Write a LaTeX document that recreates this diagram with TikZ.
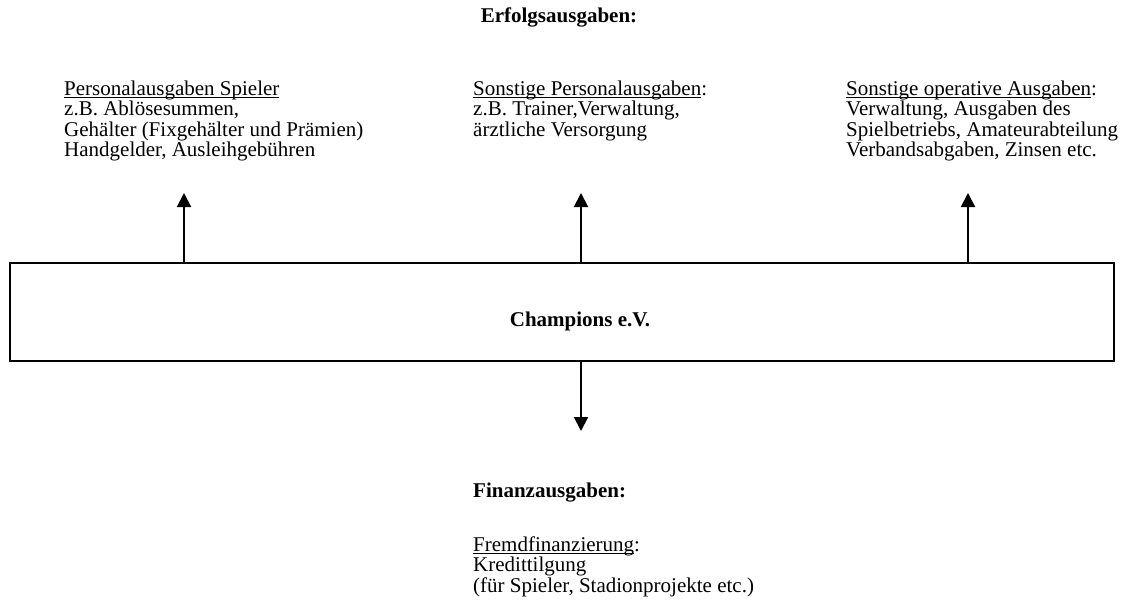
\documentclass[tikz,border=0pt]{standalone}
\usepackage{fontspec}
\setmainfont{Liberation Serif}
\usetikzlibrary{arrows.meta}
% underline drawn close to the baseline, crossing the descenders
\newcommand{\undl}[1]{\setbox0\hbox{#1}\rlap{\vrule height -1.6pt depth 2.6pt width \wd0}\box0}
\begin{document}
\begin{tikzpicture}[x=1pt,y=-1pt,
  txt/.style={font=\fontsize{21}{20.5}\selectfont, inner sep=0pt, align=left, anchor=base west},
  head/.style={font=\fontsize{21}{20.5}\selectfont\bfseries, inner sep=0pt},
  flow/.style={line width=2pt, -{Triangle[width=14pt,length=14pt]}},
  club/.style={draw, line width=1.5pt, minimum width=1104pt, minimum height=98pt, inner sep=0pt}]
  \useasboundingbox (0,0) rectangle (1124,613);

  % title of the upper group
  \node[head, anchor=base] (erfolg) at (559,23) {Erfolgsausgaben:};

  % the club in the middle
  \node[club] (club) at (562,312) {};
  \node[head] (name) at (580,321) {Champions e.V.};

  % the three kinds of operating expenses (anchored at the last baseline)
  \node[txt] (spieler) at (64,156.5) {\undl{Personalausgaben Spieler}\\
    z.B. Ablösesummen,\\
    Gehälter (Fixgehälter und Prämien)\\
    Handgelder, Ausleihgebühren};
  \node[txt] (personal) at (473,136) {\undl{Sonstige Personalausgaben}:\\
    z.B. Trainer,Verwaltung,\\
    ärztliche Versorgung};
  \node[txt] (operativ) at (846,156.5) {\undl{Sonstige operative Ausgaben}:\\
    Verwaltung, Ausgaben des\\
    Spielbetriebs, Amateurabteilung\\
    Verbandsabgaben, Zinsen etc.};

  % arrow tips
  \coordinate (t1) at (184,193);
  \coordinate (t2) at (581,193);
  \coordinate (t3) at (968,193);
  \coordinate (t4) at (581,431);
  \draw[flow] (club.north -| t1) -- (t1);
  \draw[flow] (club.north -| t2) -- (t2);
  \draw[flow] (club.north -| t3) -- (t3);
  \draw[flow] (club.south -| t4) -- (t4);

  % financing expenses below
  \node[head, anchor=base west] (finanz) at (473,497) {Finanzausgaben:};
  \node[txt] (fremd) at (473,592) {\undl{Fremdfinanzierung}:\\
    Kredittilgung\\
    (für Spieler, Stadionprojekte etc.)};
\end{tikzpicture}
\end{document}
